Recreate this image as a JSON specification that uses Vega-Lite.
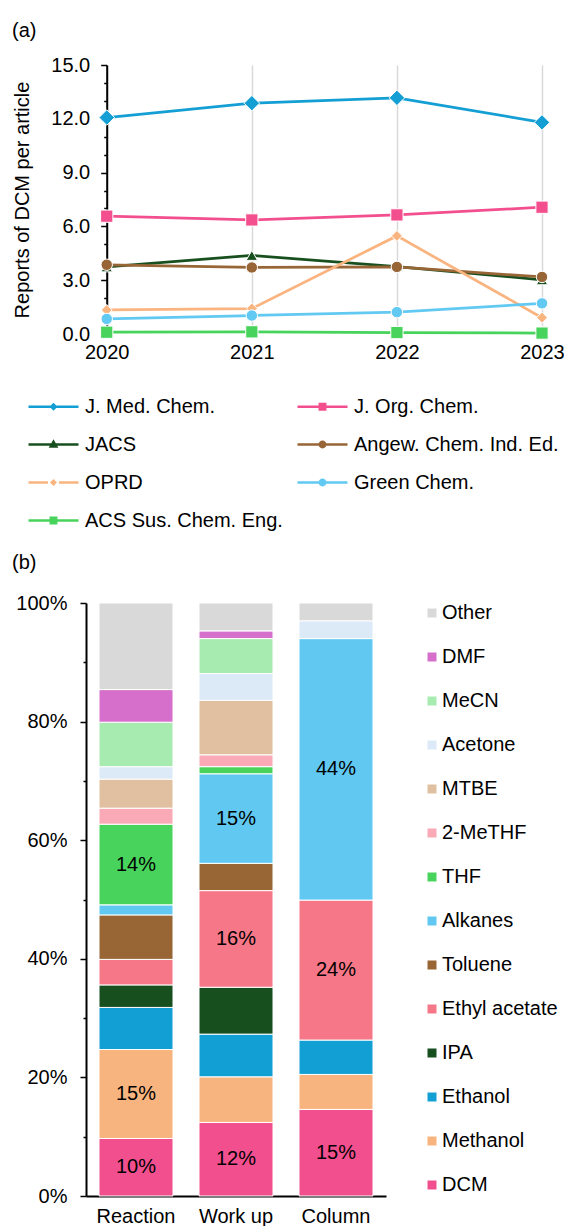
{
  "$schema": "https://vega.github.io/schema/vega-lite/v6.json",
  "padding": {"left": 12, "top": 21, "right": 0, "bottom": 0},
  "spacing": 22,
  "resolve": {"scale": {"color": "independent"}, "legend": {"color": "independent"}},
  "vconcat": [
    {
      "width": 456,
      "height": 269,
      "title": {"text": "(a)", "anchor": "start", "frame": "group", "dx": -74, "offset": 14},
      "data": {
        "values": [
          {"journal": "J. Med. Chem.", "year": 2020, "value": 12.07},
          {"journal": "J. Med. Chem.", "year": 2021, "value": 12.87},
          {"journal": "J. Med. Chem.", "year": 2022, "value": 13.17},
          {"journal": "J. Med. Chem.", "year": 2023, "value": 11.8},
          {"journal": "J. Org. Chem.", "year": 2020, "value": 6.57},
          {"journal": "J. Org. Chem.", "year": 2021, "value": 6.36},
          {"journal": "J. Org. Chem.", "year": 2022, "value": 6.64},
          {"journal": "J. Org. Chem.", "year": 2023, "value": 7.07},
          {"journal": "JACS", "year": 2020, "value": 3.74},
          {"journal": "JACS", "year": 2021, "value": 4.38},
          {"journal": "JACS", "year": 2022, "value": 3.76},
          {"journal": "JACS", "year": 2023, "value": 3.02},
          {"journal": "Angew. Chem. Ind. Ed.", "year": 2020, "value": 3.86},
          {"journal": "Angew. Chem. Ind. Ed.", "year": 2021, "value": 3.71},
          {"journal": "Angew. Chem. Ind. Ed.", "year": 2022, "value": 3.74},
          {"journal": "Angew. Chem. Ind. Ed.", "year": 2023, "value": 3.18},
          {"journal": "OPRD", "year": 2020, "value": 1.34},
          {"journal": "OPRD", "year": 2021, "value": 1.42},
          {"journal": "OPRD", "year": 2022, "value": 5.47},
          {"journal": "OPRD", "year": 2023, "value": 0.91},
          {"journal": "Green Chem.", "year": 2020, "value": 0.84},
          {"journal": "Green Chem.", "year": 2021, "value": 1.03},
          {"journal": "Green Chem.", "year": 2022, "value": 1.22},
          {"journal": "Green Chem.", "year": 2023, "value": 1.71},
          {"journal": "ACS Sus. Chem. Eng.", "year": 2020, "value": 0.1},
          {"journal": "ACS Sus. Chem. Eng.", "year": 2021, "value": 0.12},
          {"journal": "ACS Sus. Chem. Eng.", "year": 2022, "value": 0.08},
          {"journal": "ACS Sus. Chem. Eng.", "year": 2023, "value": 0.05}
        ]
      },
      "encoding": {
        "x": {
          "field": "year", "type": "quantitative",
          "scale": {"domain": [2019.857, 2023], "nice": false, "zero": false},
          "axis": {
            "title": null, "values": [2020, 2021, 2022, 2023], "format": "d",
            "grid": true, "gridColor": "#d9d9d9", "gridWidth": 1.5, "domain": false,
            "tickColor": "#bfbfbf", "tickSize": 4,
            "labelPadding": 4, "labelFlush": false, "labelOverlap": false
          }
        },
        "y": {
          "field": "value", "type": "quantitative",
          "scale": {"domain": [0, 15], "nice": false},
          "axis": {
            "title": "Reports of DCM per article", "offset": -20.7,
            "values": [0,1,2,3,4,5,6,7,8,9,10,11,12,13,14,15],
            "labelExpr": "datum.value % 3 === 0 ? format(datum.value, '.1f') : ''",
            "tickSize": {"condition": {"test": "datum.value % 3 === 0", "value": 6}, "value": 3},
            "tickColor": "black", "tickWidth": 1.5, "domainWidth": 2,
            "grid": false, "labelPadding": 11, "titlePadding": 18, "labelOverlap": false
          }
        },
        "color": {
          "field": "journal", "type": "nominal",
          "scale": {
            "domain": ["J. Med. Chem.", "J. Org. Chem.", "JACS", "Angew. Chem. Ind. Ed.", "OPRD", "Green Chem.", "ACS Sus. Chem. Eng."],
            "range": ["#139fd4", "#f34f8e", "#184f1f", "#986536", "#f9b47f", "#62c9f2", "#48d35c"]
          },
          "legend": {
            "title": null, "orient": "none", "legendX": -44, "legendY": 330,
            "direction": "horizontal", "columns": 2, "symbolSize": 400, "labelOffset": 20, "rowPadding": 16,
            "columnPadding": 9, "symbolType": "stroke", "labelLimit": 400,
            "encode": {
              "symbols": {
                "update": {
                  "shape": {"signal": "datum.value === 'J. Med. Chem.' ? 'M-2.5,0L2.5,0M-0.22,0L0,-0.22L0.22,0L0,0.22Z' : datum.value === 'J. Org. Chem.' ? 'M-2.5,0L2.5,0M-0.27,-0.27L0.27,-0.27L0.27,0.27L-0.27,0.27Z' : datum.value === 'JACS' ? 'M-2.5,0L2.5,0M-0.27,0.2L0,-0.28L0.27,0.2Z' : datum.value === 'OPRD' ? 'M-2.5,0L-0.55,0M0.55,0L2.5,0M-0.17,0L0,-0.17L0.17,0L0,0.17Z' : datum.value === 'ACS Sus. Chem. Eng.' ? 'M-2.5,0L2.5,0M-0.27,-0.27L0.27,-0.27L0.27,0.27L-0.27,0.27Z' : 'M-2.5,0L2.5,0M-0.27,0A0.27,0.27,0,1,1,0.27,0A0.27,0.27,0,1,1,-0.27,0Z'"},
                  "size": {"value": 400},
                  "fill": {"scale": "color", "field": "value"},
                  "stroke": {"scale": "color", "field": "value"},
                  "strokeWidth": {"value": 2.5},
                  "strokeOpacity": {"value": 1},
                  "fillOpacity": {"value": 1},
                  "opacity": {"value": 1}
                }
              }
            }
          }
        }
      },
      "layer": [
        {
          "data": {"values": [{}]},
          "mark": {"type": "rule", "strokeWidth": 3, "yOffset": 2},
          "encoding": {"x": {"datum": 2020}, "x2": {"datum": 2023}, "y": {"datum": 0}, "color": {"value": "black"}}
        },
        {"mark": {"type": "line", "strokeWidth": 2.75}},
        {
          "transform": [{"filter": "datum.journal === 'J. Med. Chem.'"}],
          "mark": {"type": "point", "shape": "diamond", "size": 240, "filled": true, "opacity": 1, "stroke": "white", "strokeWidth": 1}
        },
        {
          "transform": [{"filter": "datum.journal === 'OPRD'"}],
          "mark": {"type": "point", "shape": "diamond", "size": 120, "filled": true, "opacity": 1, "stroke": "white", "strokeWidth": 1}
        },
        {
          "transform": [{"filter": "datum.journal === 'J. Org. Chem.' || datum.journal === 'ACS Sus. Chem. Eng.'"}],
          "mark": {"type": "point", "shape": "square", "size": 150, "filled": true, "opacity": 1, "stroke": "white", "strokeWidth": 1}
        },
        {
          "transform": [{"filter": "datum.journal === 'JACS'"}],
          "mark": {"type": "point", "shape": "triangle-up", "size": 130, "filled": true, "opacity": 1, "stroke": "white", "strokeWidth": 1}
        },
        {
          "transform": [{"filter": "datum.journal === 'Angew. Chem. Ind. Ed.' || datum.journal === 'Green Chem.'"}],
          "mark": {"type": "point", "shape": "circle", "size": 130, "filled": true, "opacity": 1, "stroke": "white", "strokeWidth": 1}
        }
      ]
    },
    {
      "width": 300,
      "height": 593,
      "title": {"text": "(b)", "anchor": "start", "frame": "group", "dx": -74, "offset": 20},
      "data": {
        "values": [
          {"stage": "Reaction", "solvent": "DCM", "pct": 9.7},
          {"stage": "Reaction", "solvent": "Methanol", "pct": 15.0},
          {"stage": "Reaction", "solvent": "Ethanol", "pct": 7.1},
          {"stage": "Reaction", "solvent": "IPA", "pct": 3.8},
          {"stage": "Reaction", "solvent": "Ethyl acetate", "pct": 4.3},
          {"stage": "Reaction", "solvent": "Toluene", "pct": 7.5},
          {"stage": "Reaction", "solvent": "Alkanes", "pct": 1.7},
          {"stage": "Reaction", "solvent": "THF", "pct": 13.6},
          {"stage": "Reaction", "solvent": "2-MeTHF", "pct": 2.7},
          {"stage": "Reaction", "solvent": "MTBE", "pct": 4.9},
          {"stage": "Reaction", "solvent": "Acetone", "pct": 2.1},
          {"stage": "Reaction", "solvent": "MeCN", "pct": 7.5},
          {"stage": "Reaction", "solvent": "DMF", "pct": 5.5},
          {"stage": "Reaction", "solvent": "Other", "pct": 14.6},
          {"stage": "Work up", "solvent": "DCM", "pct": 12.4},
          {"stage": "Work up", "solvent": "Methanol", "pct": 7.7},
          {"stage": "Work up", "solvent": "Ethanol", "pct": 7.2},
          {"stage": "Work up", "solvent": "IPA", "pct": 7.9},
          {"stage": "Work up", "solvent": "Ethyl acetate", "pct": 16.3},
          {"stage": "Work up", "solvent": "Toluene", "pct": 4.6},
          {"stage": "Work up", "solvent": "Alkanes", "pct": 15.1},
          {"stage": "Work up", "solvent": "THF", "pct": 1.2},
          {"stage": "Work up", "solvent": "2-MeTHF", "pct": 2.0},
          {"stage": "Work up", "solvent": "MTBE", "pct": 9.2},
          {"stage": "Work up", "solvent": "Acetone", "pct": 4.5},
          {"stage": "Work up", "solvent": "MeCN", "pct": 5.9},
          {"stage": "Work up", "solvent": "DMF", "pct": 1.3},
          {"stage": "Work up", "solvent": "Other", "pct": 4.7},
          {"stage": "Column", "solvent": "DCM", "pct": 14.6},
          {"stage": "Column", "solvent": "Methanol", "pct": 5.9},
          {"stage": "Column", "solvent": "Ethanol", "pct": 5.8},
          {"stage": "Column", "solvent": "Ethyl acetate", "pct": 23.6},
          {"stage": "Column", "solvent": "Alkanes", "pct": 44.1},
          {"stage": "Column", "solvent": "Acetone", "pct": 3.0},
          {"stage": "Column", "solvent": "Other", "pct": 3.0}
        ]
      },
      "transform": [
        {"calculate": "indexof(['DCM','Methanol','Ethanol','IPA','Ethyl acetate','Toluene','Alkanes','THF','2-MeTHF','MTBE','Acetone','MeCN','DMF','Other'], datum.solvent)", "as": "ord"},
        {"stack": "pct", "groupby": ["stage"], "sort": [{"field": "ord", "order": "ascending"}], "as": ["y0", "y1"]},
        {"calculate": "(datum.y0 + datum.y1) / 2", "as": "ymid"},
        {"calculate": "format(datum.pct, '.0f') + '%'", "as": "label"}
      ],
      "encoding": {
        "x": {
          "field": "stage", "type": "nominal", "sort": ["Reaction", "Work up", "Column"],
          "scale": {"paddingInner": 0.26, "paddingOuter": 0.13},
          "axis": {"title": null, "ticks": false, "domainWidth": 2, "labelAngle": 0, "labelPadding": 10}
        }
      },
      "layer": [
        {
          "mark": {"type": "bar", "stroke": "white", "strokeWidth": 1},
          "encoding": {
            "y": {
              "field": "y0", "type": "quantitative",
              "scale": {"domain": [0, 100], "nice": false},
              "axis": {
                "title": null, "values": [0,10,20,30,40,50,60,70,80,90,100],
                "labelExpr": "datum.value % 20 === 0 ? datum.value + '%' : ''",
                "tickSize": {"condition": {"test": "datum.value % 20 === 0", "value": 6}, "value": 3},
                "tickColor": "black", "tickWidth": 1.5, "domainWidth": 2, "grid": false,
                "labelPadding": 13, "labelOverlap": false
              }
            },
            "y2": {"field": "y1"},
            "color": {
              "field": "solvent", "type": "nominal",
              "scale": {
                "domain": ["Other", "DMF", "MeCN", "Acetone", "MTBE", "2-MeTHF", "THF", "Alkanes", "Toluene", "Ethyl acetate", "IPA", "Ethanol", "Methanol", "DCM"],
                "range": ["#d9d9d9", "#d66fcb", "#a7ebb0", "#dce9f6", "#e0c0a0", "#f9aab6", "#48d45c", "#61c9f1", "#986535", "#f67787", "#174f1e", "#119fd4", "#f8b47e", "#f24f8e"]
              },
              "legend": {
                "title": null, "orient": "right", "offset": 36, "symbolType": "square",
                "symbolSize": 81, "rowPadding": 24, "labelOffset": 0, "symbolStrokeWidth": 0, "padding": 0, "labelLimit": 300
              }
            }
          }
        },
        {
          "transform": [{"filter": "datum.solvent !== 'Other' && datum.pct >= 9.5"}],
          "mark": {"type": "text", "fontSize": 20, "color": "black", "font": "Liberation Sans"},
          "encoding": {
            "y": {"field": "ymid", "type": "quantitative"},
            "text": {"field": "label", "type": "nominal"}
          }
        }
      ]
    }
  ],
  "config": {
    "view": {"stroke": null},
    "font": "Liberation Sans",
    "axis": {"labelFont": "Liberation Sans", "labelColor": "black", "labelFontSize": 20, "titleFont": "Liberation Sans", "titleFontSize": 20, "titleFontWeight": "normal", "titleColor": "black", "domainColor": "black"},
    "legend": {"labelFont": "Liberation Sans", "labelFontSize": 20, "labelColor": "black"},
    "title": {"font": "Liberation Sans", "fontSize": 20, "fontWeight": "normal", "color": "black"}
  }
}
